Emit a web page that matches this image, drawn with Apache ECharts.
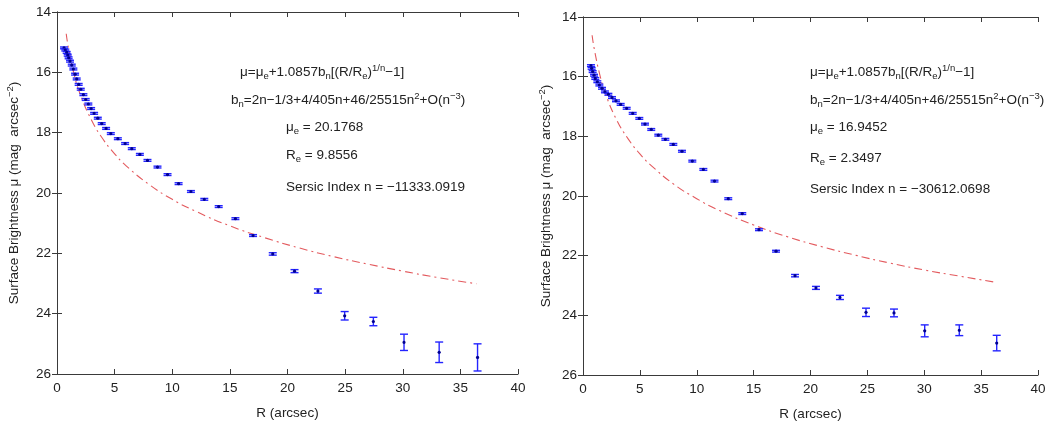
<!DOCTYPE html>
<html>
<head>
<meta charset="utf-8">
<script src="https://cdn.jsdelivr.net/npm/echarts@6/dist/echarts.min.js"></script>
<style>
html,body{margin:0;padding:0;background:#fff;}
#chart{width:1054px;height:426px;}
</style>
</head>
<body>
<div id="chart"></div>
<script>
// ---- Data ----
const xTickLabels = [0, 5, 10, 15, 20, 25, 30, 35, 40];
const yTickLabels = [14, 16, 18, 20, 22, 24, 26];

// Left panel: observed profile
const leftR = [0.61,0.72,0.84,0.93,1.01,1.13,1.28,1.42,1.57,1.71,1.88,2.06,2.29,2.49,2.72,2.96,3.22,3.54,3.88,4.26,4.67,5.28,5.91,6.49,7.19,7.85,8.72,9.59,10.55,11.62,12.78,14.03,15.48,17.01,18.72,20.61,22.64,24.96,27.45,30.11,33.16,36.49];
const leftMu = [15.19,15.26,15.34,15.43,15.52,15.63,15.76,15.89,16.06,16.22,16.40,16.56,16.74,16.90,17.05,17.20,17.36,17.52,17.70,17.86,18.03,18.20,18.36,18.53,18.72,18.92,19.14,19.39,19.69,19.95,20.21,20.45,20.85,21.41,22.02,22.59,23.25,24.07,24.26,24.95,25.28,25.45];
const leftErr = [0.03,0.03,0.03,0.03,0.03,0.03,0.03,0.03,0.03,0.03,0.03,0.03,0.03,0.03,0.03,0.03,0.03,0.03,0.03,0.03,0.03,0.03,0.03,0.03,0.03,0.03,0.03,0.03,0.03,0.03,0.03,0.03,0.03,0.03,0.04,0.05,0.07,0.14,0.14,0.27,0.34,0.45];
// Left panel: Sersic model curve
const leftModelR = [0.8,1,1.5,2,3,4,5,6,8,10,12,15,18,21,24,27,30,33,36.4];
const leftModelMu = [14.72,15.21,16.09,16.71,17.59,18.22,18.70,19.10,19.72,20.21,20.60,21.09,21.48,21.82,22.11,22.36,22.59,22.80,23.01];

// Right panel: observed profile
const rightR = [0.70,0.76,0.85,0.97,1.08,1.26,1.44,1.67,1.93,2.23,2.55,2.90,3.31,3.84,4.37,4.95,5.45,6.00,6.62,7.24,7.94,8.70,9.61,10.58,11.56,12.77,14.00,15.47,16.97,18.64,20.48,22.59,24.88,27.34,30.04,33.08,36.37];
const rightMu = [15.63,15.72,15.83,15.95,16.06,16.17,16.28,16.39,16.51,16.59,16.70,16.81,16.93,17.06,17.23,17.40,17.59,17.77,17.96,18.10,18.27,18.50,18.83,19.11,19.50,20.09,20.59,21.13,21.85,22.67,23.08,23.40,23.90,23.92,24.52,24.50,24.93];
const rightErr = [0.03,0.03,0.03,0.03,0.03,0.03,0.03,0.03,0.03,0.03,0.03,0.03,0.03,0.03,0.03,0.03,0.03,0.03,0.03,0.03,0.03,0.03,0.03,0.03,0.03,0.03,0.03,0.03,0.03,0.04,0.05,0.07,0.14,0.13,0.20,0.18,0.26];
// Right panel: Sersic model curve
const rightModelR = [0.8,1,1.5,2,3,4,5,6,8,10,12,15,18,21,24,27,30,33,36.4];
const rightModelMu = [14.61,15.09,15.97,16.60,17.48,18.10,18.59,18.98,19.61,20.09,20.49,20.97,21.37,21.70,21.99,22.25,22.48,22.68,22.90];

// Annotation texts
const leftNotes = [
  'μ=μ{s|e}+1.0857b{s|n}[(R/R{s|e}){p|1/n}−1]',
  'b{s|n}=2n−1/3+4/405n+46/25515n{p|2}+O(n{p|−3})',
  'μ{s|e} = 20.1768',
  'R{s|e} = 9.8556',
  'Sersic Index n = −11333.0919'
];
const rightNotes = [
  'μ=μ{s|e}+1.0857b{s|n}[(R/R{s|e}){p|1/n}−1]',
  'b{s|n}=2n−1/3+4/405n+46/25515n{p|2}+O(n{p|−3})',
  'μ{s|e} = 16.9452',
  'R{s|e} = 2.3497',
  'Sersic Index n = −30612.0698'
];
const xName = 'R (arcsec)';
const yName = 'Surface Brightness μ (mag  arcsec{p|−2})';

// ---- Styling ----
const FONT = 'Liberation Sans, Arial, Helvetica, sans-serif';
const FS = 13.5;
const AXIS_COLOR = '#3a3a3a';
const TEXT_COLOR = '#222';
const richSub = {
  s: {fontSize: 9.5, fontFamily: FONT, color: TEXT_COLOR, padding: [8, 0, 0, 0]},
  p: {fontSize: 9.5, fontFamily: FONT, color: TEXT_COLOR, padding: [0, 0, 8, 0]}
};

const grids = [
  {left: 57, top: 12, width: 461, height: 362},
  {left: 583, top: 17, width: 455, height: 358}
];

function zip2(a, b) { return a.map((v, i) => [v, b[i]]); }
function zip3(a, b, c) { return a.map((v, i) => [v, b[i], c[i]]); }

const xAxes = [], yAxes = [];
grids.forEach((g, gi) => {
  xAxes.push({
    gridIndex: gi, type: 'value', position: 'bottom', min: 0, max: 40, interval: 5,
    axisLine: {show: true, lineStyle: {color: AXIS_COLOR, width: 1}},
    axisTick: {show: true, inside: true, length: 5, lineStyle: {color: AXIS_COLOR}},
    axisLabel: {show: true, color: TEXT_COLOR, fontSize: FS, fontFamily: FONT, margin: 7,
      formatter: v => (xTickLabels.indexOf(v) >= 0 ? String(v) : '')},
    splitLine: {show: false},
    name: xName, nameLocation: 'middle', nameGap: 32,
    nameTextStyle: {color: TEXT_COLOR, fontSize: FS, fontFamily: FONT}
  });
  xAxes.push({
    gridIndex: gi, type: 'value', position: 'top', min: 0, max: 40, interval: 5,
    axisLine: {show: true, lineStyle: {color: AXIS_COLOR, width: 1}},
    axisTick: {show: true, inside: true, length: 5, lineStyle: {color: AXIS_COLOR}},
    axisLabel: {show: false}, splitLine: {show: false}
  });
  yAxes.push({
    gridIndex: gi, type: 'value', position: 'left', min: 14, max: 26, interval: 2, inverse: true,
    axisLine: {show: true, lineStyle: {color: AXIS_COLOR, width: 1}},
    axisTick: {show: true, inside: true, length: 5, lineStyle: {color: AXIS_COLOR}},
    axisLabel: {show: true, color: TEXT_COLOR, fontSize: FS, fontFamily: FONT, margin: 6,
      formatter: v => (yTickLabels.indexOf(v) >= 0 ? String(v) : '')},
    splitLine: {show: false},
    name: yName, nameLocation: 'middle', nameGap: gi === 0 ? 34 : 28, nameRotate: 90,
    nameTextStyle: {color: TEXT_COLOR, fontSize: FS, fontFamily: FONT, rich: richSub}
  });
  yAxes.push({
    gridIndex: gi, type: 'value', position: 'right', min: 14, max: 26, interval: 2, inverse: true,
    axisLine: {show: true, lineStyle: {color: AXIS_COLOR, width: 1}},
    axisTick: {show: true, inside: true, length: 5, lineStyle: {color: AXIS_COLOR}},
    axisLabel: {show: false}, splitLine: {show: false}
  });
});

function renderErr(params, api) {
  const x = api.value(0), y = api.value(1), e = api.value(2);
  const p = api.coord([x, y]);
  const lo = api.coord([x, y - e]);
  const hi = api.coord([x, y + e]);
  const cw = 4;
  const st = {stroke: '#2424ff', lineWidth: 1.4};
  return {
    type: 'group',
    children: [
      {type: 'line', shape: {x1: p[0], y1: lo[1], x2: p[0], y2: hi[1]}, style: st},
      {type: 'line', shape: {x1: p[0] - cw, y1: lo[1], x2: p[0] + cw, y2: lo[1]}, style: st},
      {type: 'line', shape: {x1: p[0] - cw, y1: hi[1], x2: p[0] + cw, y2: hi[1]}, style: st},
      {type: 'circle', shape: {cx: p[0], cy: p[1], r: 1.6}, style: {fill: '#000090'}}
    ]
  };
}

const modelStyle = {color: '#e35a5e', width: 1.1, type: [8, 4, 2, 4]};

const series = [
  {type: 'line', xAxisIndex: 0, yAxisIndex: 0, data: zip2(leftModelR, leftModelMu), smooth: true,
   showSymbol: false, lineStyle: modelStyle, z: 2, silent: true},
  {type: 'custom', xAxisIndex: 0, yAxisIndex: 0, data: zip3(leftR, leftMu, leftErr),
   renderItem: renderErr, z: 3, silent: true},
  {type: 'line', xAxisIndex: 2, yAxisIndex: 2, data: zip2(rightModelR, rightModelMu), smooth: true,
   showSymbol: false, lineStyle: modelStyle, z: 2, silent: true},
  {type: 'custom', xAxisIndex: 2, yAxisIndex: 2, data: zip3(rightR, rightMu, rightErr),
   renderItem: renderErr, z: 3, silent: true}
];

function noteGraphics(lines, positions) {
  return lines.map((t, i) => ({
    type: 'text', left: positions[i][0], top: positions[i][1], z: 10, silent: true,
    style: {text: t, fill: TEXT_COLOR, fontSize: FS, fontFamily: FONT, rich: richSub}
  }));
}

const leftPos = [[240, 63], [231, 91], [286, 120], [286, 148], [286, 180]];
const rightPos = [[810, 63], [810, 91], [810, 120], [810, 151], [810, 182]];

const chart = echarts.init(document.getElementById('chart'), null, {renderer: 'canvas'});
chart.setOption({
  animation: false,
  backgroundColor: '#ffffff',
  grid: grids.map(g => Object.assign({containLabel: false}, g)),
  xAxis: xAxes,
  yAxis: yAxes,
  series: series,
  graphic: noteGraphics(leftNotes, leftPos).concat(noteGraphics(rightNotes, rightPos))
});
</script>
</body>
</html>
